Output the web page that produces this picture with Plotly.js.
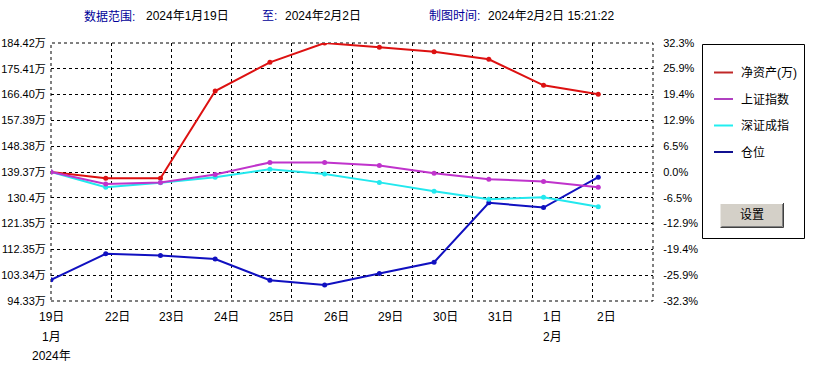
<!DOCTYPE html>
<html>
<head>
<meta charset="utf-8">
<script src="https://cdn.plot.ly/plotly-3.0.1.min.js"></script>
<style>
html,body{margin:0;padding:0;background:#fff;}
#chart{width:829px;height:369px;}
</style>
</head>
<body>
<div id="chart"></div>
<script>
// ---- data ----
const dayLabels = ['19日','22日','23日','24日','25日','26日','29日','30日','31日','1日','2日'];
const monthLabels = ['1月','','','','','','','','','2月',''];
const yearLabel = '2024年';
const netAsset = [139.37,137.17,137.17,167.66,177.68,184.42,182.92,181.38,178.73,169.65,166.51]; // 万
const shIndex  = [0,-3.0,-2.6,-0.6,2.4,2.4,1.6,-0.3,-1.8,-2.4,-3.8];   // %
const szIndex  = [0,-3.8,-2.7,-1.3,0.7,-0.5,-2.6,-4.8,-6.8,-6.3,-8.7]; // %
const position = [-27.0,-20.5,-20.9,-21.8,-27.1,-28.3,-25.4,-22.6,-7.7,-8.9,-1.3]; // %
const leftTicks  = [184.42,175.41,166.40,157.39,148.38,139.37,130.4,121.35,112.35,103.34,94.33];
const leftTickText = ['184.42万','175.41万','166.40万','157.39万','148.38万','139.37万','130.4万','121.35万','112.35万','103.34万','94.33万'];
const rightTicks = [32.3,25.9,19.4,12.9,6.5,0.0,-6.5,-12.9,-19.4,-25.9,-32.3];
const rightTickText = ['32.3%','25.9%','19.4%','12.9%','6.5%','0.0%','-6.5%','-12.9%','-19.4%','-25.9%','-32.3%'];
const seriesNames = ['净资产(万)','上证指数','深证成指','仓位'];
const seriesColors = ['#DD1111','#C033CC','#22E8EE','#1010C0'];
const legendColors = ['#C02828','#B040C0','#22EEF0','#101090'];
const headerItems = [
  {t:'数据范围:', blue:true}, {t:'2024年1月19日'},
  {t:'至:', blue:true}, {t:'2024年2月2日'},
  {t:'制图时间:', blue:true}, {t:'2024年2月2日 15:21:22'}
];
const buttonLabel = '设置';

// ---- layout helpers ----
const W = 829, H = 369;
const L = 51, R = 653, T = 43, B = 301;
const px = x => (x - L) / (R - L);
const py = y => (B - y) / (B - T);
const F = '"Liberation Sans", "Noto Sans CJK SC", sans-serif';
const FS = 11;
const xs = dayLabels.map((_, i) => i);

function tr(y, name, color, axis) {
  return {x: xs, y: y, name: name, type: 'scatter', mode: 'lines+markers',
    yaxis: axis, line: {color: color, width: 2}, marker: {color: color, size: 5},
    showlegend: false, hoverinfo: 'skip'};
}
const data = [
  tr(netAsset, seriesNames[0], seriesColors[0], 'y'),
  tr(shIndex, seriesNames[1], seriesColors[1], 'y2'),
  tr(szIndex, seriesNames[2], seriesColors[2], 'y2'),
  tr(position, seriesNames[3], seriesColors[3], 'y2')
];
const drawOrder = [3,2,1,0].map(i => data[i]);

const annotations = [];
const shapes = [];

// header
const headerX = [82, 144, 260, 283, 427, 486];
headerItems.forEach((h, i) => {
  annotations.push({xref:'paper', yref:'paper', x: px(headerX[i]), y: py(16),
    xanchor:'left', yanchor:'middle', showarrow:false, text:h.t,
    font:{family:F, size:12, color: h.blue ? '#000099' : '#000'}});
});

// x labels
dayLabels.forEach((d, i) => {
  annotations.push({xref:'x', yref:'paper', x:i, y:py(316.5), yanchor:'middle',
    xanchor: i === 0 ? 'center' : 'left', xshift: i === 0 ? 0 : -3,
    showarrow:false, text:d, font:{family:F, size:12, color:'#000'}});
  if (monthLabels[i]) {
    annotations.push({xref:'x', yref:'paper', x:i, y:py(336.5), yanchor:'middle',
      xanchor: i === 0 ? 'center' : 'left', xshift: i === 0 ? 0 : -3,
      showarrow:false, text:monthLabels[i], font:{family:F, size:12, color:'#000'}});
  }
});
annotations.push({xref:'x', yref:'paper', x:0, y:py(355.5), yanchor:'middle', xanchor:'center',
  showarrow:false, text:yearLabel, font:{family:F, size:12, color:'#000'}});

// plot frame (dashed)
shapes.push({type:'rect', xref:'paper', yref:'paper', x0:0, x1:1, y0:0, y1:1,
  line:{color:'#000', width:1, dash:'3px,3px'}, layer:'below'});

// legend box
shapes.push({type:'rect', xref:'paper', yref:'paper', x0:px(702.5), x1:px(804.5), y0:py(238.5), y1:py(44.5),
  line:{color:'#000', width:1}, fillcolor:'rgba(0,0,0,0)'});
const legY = [72.5, 99, 125.5, 152];
seriesNames.forEach((n, i) => {
  shapes.push({type:'line', xref:'paper', yref:'paper', x0:px(714), x1:px(733), y0:py(legY[i]), y1:py(legY[i]),
    line:{color:legendColors[i], width:2}});
  annotations.push({xref:'paper', yref:'paper', x:px(739), y:py(legY[i]), xanchor:'left', yanchor:'middle',
    showarrow:false, text:n, font:{family:F, size:12, color:'#000'}});
});

// button
shapes.push({type:'rect', xref:'paper', yref:'paper', x0:px(720), x1:px(783), y0:py(227), y1:py(203),
  line:{width:0}, fillcolor:'#D4D0C8'});
shapes.push({type:'path', xref:'paper', yref:'paper',
  path:`M ${px(720)} ${py(227)} L ${px(720)} ${py(203.5)} L ${px(783)} ${py(203.5)}`, line:{color:'#FFFFFF', width:1}});
shapes.push({type:'path', xref:'paper', yref:'paper',
  path:`M ${px(720.5)} ${py(227.5)} L ${px(783.5)} ${py(227.5)} L ${px(783.5)} ${py(203)}`, line:{color:'#404040', width:1}});
shapes.push({type:'path', xref:'paper', yref:'paper',
  path:`M ${px(721.5)} ${py(226.5)} L ${px(782.5)} ${py(226.5)} L ${px(782.5)} ${py(204)}`, line:{color:'#808080', width:1}});
annotations.push({xref:'paper', yref:'paper', x:px(751.5), y:py(215), xanchor:'center', yanchor:'middle',
  showarrow:false, text:buttonLabel, font:{family:F, size:12, color:'#000'}});

const layout = {
  width: W, height: H,
  margin: {l: L, r: W - R, t: T, b: H - B, pad: 0},
  paper_bgcolor: '#fff', plot_bgcolor: '#fff',
  showlegend: false,
  font: {family: F, size: FS, color: '#000'},
  xaxis: {range: [0, 11], tickmode: 'linear', tick0: 0, dtick: 1.1, showticklabels: false,
    showgrid: true, gridcolor: '#000', gridwidth: 1, griddash: '3px,3px', zeroline: false,
    showline: false, ticks: '', fixedrange: true},
  yaxis: {range: [94.33, 184.42], tickmode: 'array', tickvals: leftTicks, ticktext: leftTickText,
    showgrid: true, gridcolor: '#000', gridwidth: 1, griddash: '3px,3px', zeroline: false,
    showline: false, ticks: 'outside', ticklen: 2, tickcolor: 'rgba(0,0,0,0)',
    tickfont: {family: F, size: FS, color: '#000'}, fixedrange: true},
  yaxis2: {range: [-32.3, 32.3], overlaying: 'y', side: 'right', tickmode: 'array',
    tickvals: rightTicks, ticktext: rightTickText, showgrid: false, zeroline: false,
    showline: false, ticks: 'outside', ticklen: 7, tickcolor: 'rgba(0,0,0,0)',
    tickfont: {family: F, size: FS, color: '#000'}, fixedrange: true},
  annotations: annotations,
  shapes: shapes
};

Plotly.newPlot('chart', drawOrder, layout, {staticPlot: true, displayModeBar: false});
</script>
</body>
</html>
